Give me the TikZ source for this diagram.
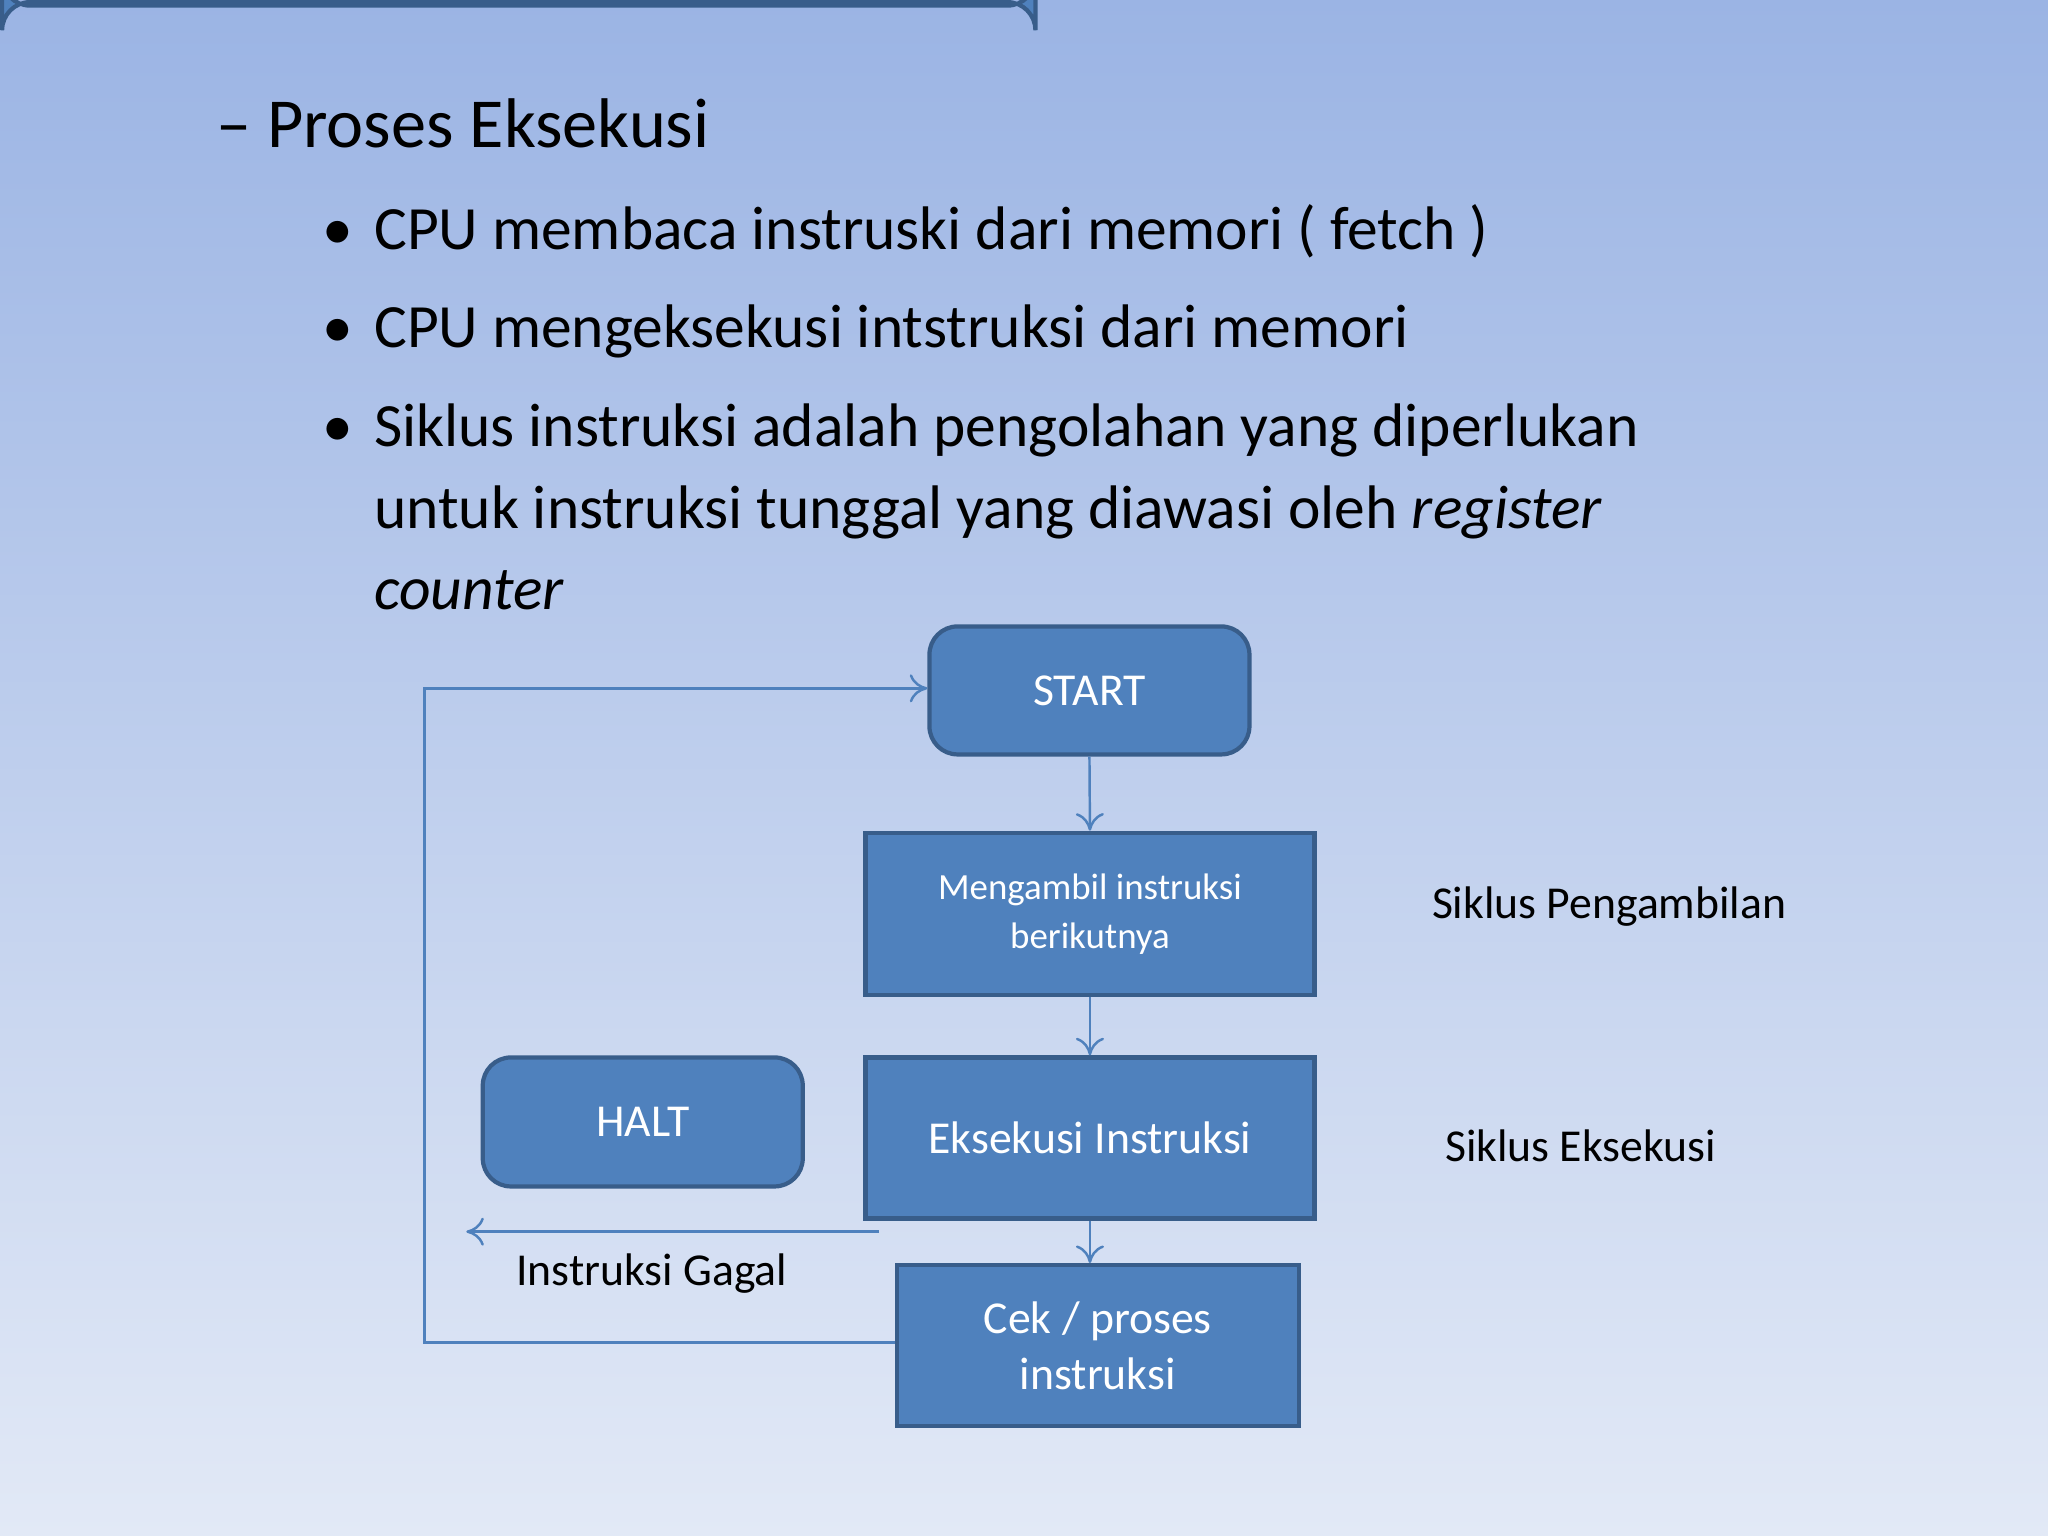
\documentclass[tikz,border=0pt]{standalone}
\usepackage{fontspec}
\setmainfont{Carlito}
\usetikzlibrary{arrows.meta}
\definecolor{bfill}{RGB}{79,129,189}
\definecolor{bdraw}{RGB}{56,93,138}
\definecolor{bgtop}{RGB}{155,180,228}
\definecolor{bgbot}{RGB}{226,233,246}
\tikzset{
 box/.style={draw=bdraw,fill=bfill,line width=1.2pt,text=white,align=center,anchor=north west,inner sep=0pt},
 rbox/.style={box,rounded corners=8pt},
 conn/.style={draw=bfill,line width=0.7pt,-{To[length=5pt,width=8pt]}},
 btxt/.style={anchor=base west,inner sep=0pt,font=\fontsize{17.5}{21}\selectfont},
}
\begin{document}
\begin{tikzpicture}[x=0.013061cm,y=-0.013061cm]
\shade[top color=bgtop,bottom color=bgbot] (0,0) rectangle (1568,1176);
\useasboundingbox (0,0) rectangle (1568,1176);
\node[btxt,font=\fontsize{20}{24}\selectfont] (title) at (165,113) {– Proses Eksekusi};
\node[btxt] (b1) at (246,191) {•};
\node[btxt] (t1) at (286,191) {CPU membaca instruski dari memori ( fetch )};
\node[btxt] (b2) at (246,266) {•};
\node[btxt] (t2) at (286,266) {CPU mengeksekusi intstruksi dari memori};
\node[btxt] (b3) at (246,342) {•};
\node[btxt] (t3) at (286,342) {Siklus instruksi adalah pengolahan yang diperlukan};
\node[btxt] (t4) at (286,405) {untuk instruksi tunggal yang diawasi oleh \textit{register}};
\node[btxt] (t5) at (286,467) {\textit{counter}};

\node[rbox,minimum width=245\pgflinewidth,text width=0pt] (dummy) at (0,0) {};
\node[rbox,minimum width=3.2cm,minimum height=1.28cm,font=\fontsize{13}{15}\selectfont] (start) at (710,478) {START};
\node[box,minimum width=4.49cm,minimum height=1.62cm,font=\fontsize{10.5}{14}\selectfont] (fetch) at (661,636) {Mengambil instruksi\\berikutnya};
\node[box,minimum width=4.49cm,minimum height=1.61cm,font=\fontsize{13}{15}\selectfont] (exec) at (661,808) {Eksekusi Instruksi};
\node[box,minimum width=4.02cm,minimum height=1.61cm,font=\fontsize{13}{16}\selectfont] (cek) at (685,967) {Cek / proses\\instruksi};
\node[rbox,minimum width=3.2cm,minimum height=1.29cm,font=\fontsize{13}{15}\selectfont] (halt) at (368,808) {HALT};

\node[font=\fontsize{13}{15}\selectfont] (sp) at (1232,694) {Siklus Pengambilan};
\node[font=\fontsize{13}{15}\selectfont] (se) at (1210,877) {Siklus Eksekusi};
\node[font=\fontsize{13}{15}\selectfont] (gagal) at (499,975) {Instruksi Gagal};

\draw[conn] (start.south) -- (fetch.north);
\draw[conn] (fetch.south) -- (exec.north);
\draw[conn] (exec.south) -- (exec.south |- cek.north);
\coordinate (c1) at (325,1028);
\coordinate (c2) at (325,527);
\draw[conn] (cek.west |- c1) -- (c1) -- (c2) -- (start.west |- c2);
\coordinate (g1) at (673,943);
\coordinate (g2) at (357,943);
\draw[conn] (g1) -- (g2);
\end{tikzpicture}
\end{document}
